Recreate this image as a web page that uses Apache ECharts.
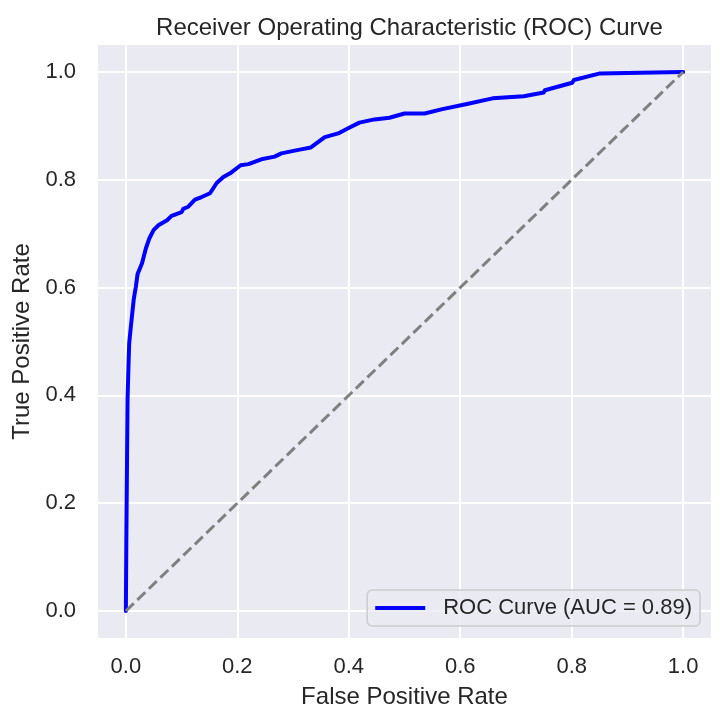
<!DOCTYPE html>
<html>
<head>
    <meta charset="utf-8">
    <title>ROC Curve</title>
    <script src="https://cdn.jsdelivr.net/npm/echarts@6/dist/echarts.min.js"></script>
    <style>
        html, body { margin: 0; padding: 0; background: #fff; }
    </style>
</head>
<body>
    <div id="main" style="width:726px;height:725px;"></div>
    <script type="text/javascript">
        // values
        var fpr = [0, 0.001, 0.002, 0.003, 0.005, 0.006, 0.009, 0.014, 0.016, 0.018,
            0.021, 0.029, 0.036, 0.042, 0.050, 0.059, 0.074, 0.082, 0.087, 0.100,
            0.103, 0.112, 0.124, 0.136, 0.151, 0.163, 0.175, 0.187, 0.206, 0.220,
            0.243, 0.267, 0.279, 0.303, 0.312, 0.332, 0.357, 0.381, 0.398, 0.419,
            0.446, 0.473, 0.500, 0.536, 0.568, 0.610, 0.658, 0.714, 0.750, 0.752,
            0.801, 0.804, 0.849, 1.0];
        var tpr = [0, 0.15, 0.27, 0.392, 0.466, 0.497, 0.528, 0.577, 0.590, 0.602,
            0.625, 0.645, 0.673, 0.691, 0.707, 0.716, 0.725, 0.733, 0.735, 0.740,
            0.746, 0.750, 0.763, 0.768, 0.775, 0.794, 0.805, 0.812, 0.827, 0.829,
            0.838, 0.843, 0.849, 0.854, 0.856, 0.860, 0.879, 0.886, 0.895, 0.906,
            0.912, 0.915, 0.923, 0.923, 0.931, 0.940, 0.951, 0.955, 0.962, 0.966,
            0.980, 0.985, 0.997, 1.0];
        var chanceLine = [[0, 0], [1, 1]];
        var tickValues = [0, 0.2, 0.4, 0.6, 0.8, 1.0];
        var rocName = 'ROC Curve (AUC = 0.89)';

        var textColor = '#262626';
        var font = '"Liberation Sans", Arial, sans-serif';

        var rocData = fpr.map(function (x, i) { return [x, tpr[i]]; });

        var myChart = echarts.init(document.getElementById('main'));

        function axisCommon(name, isX) {
            return {
                type: 'value',
                min: -0.05,
                max: 1.05,
                name: name,
                nameLocation: 'middle',
                nameGap: isX ? 47 : 62,
                nameTextStyle: { color: textColor, fontSize: 24, fontFamily: font },
                axisLine: { show: false, onZero: false },
                axisTick: { show: false, customValues: tickValues },
                axisLabel: {
                    customValues: tickValues,
                    color: textColor,
                    fontSize: 22,
                    fontFamily: font,
                    margin: isX ? 18 : 22,
                    formatter: function (v) { return v.toFixed(1); }
                },
                splitLine: { show: true, lineStyle: { color: '#ffffff', width: 2 } }
            };
        }

        var option = {
            animation: false,
            title: {
                text: 'Receiver Operating Characteristic (ROC) Curve',
                left: 404.5,
                top: 11,
                textAlign: 'center',
                textStyle: { color: textColor, fontSize: 24, fontWeight: 'normal', fontFamily: font }
            },
            grid: {
                left: 98,
                right: 15,
                top: 45,
                bottom: 87,
                outerBoundsMode: 'none',
                containLabel: false,
                show: true,
                backgroundColor: '#EAEAF2',
                borderWidth: 0
            },
            legend: {
                data: [rocName],
                right: 26,
                bottom: 99,
                orient: 'vertical',
                icon: 'rect',
                itemWidth: 50,
                itemHeight: 4,
                padding: [7, 8, 7, 8],
                backgroundColor: 'rgba(234,234,242,0.8)',
                borderColor: '#cccccc',
                borderWidth: 1.5,
                borderRadius: 5,
                textStyle: { color: textColor, fontSize: 22, fontFamily: font, padding: [0, 0, 0, 13] }
            },
            xAxis: axisCommon('False Positive Rate', true),
            yAxis: axisCommon('True Positive Rate', false),
            series: [
                {
                    name: rocName,
                    type: 'line',
                    data: rocData,
                    symbol: 'none',
                    color: '#0000ff',
                    lineStyle: { color: '#0000ff', width: 4, cap: 'round', join: 'round' },
                    z: 2
                },
                {
                    name: 'chance',
                    type: 'line',
                    data: chanceLine,
                    symbol: 'none',
                    color: '#808080',
                    lineStyle: { color: '#808080', width: 3, type: [11, 5] },
                    z: 3
                }
            ]
        };
        myChart.setOption(option);
    </script>
</body>
</html>
